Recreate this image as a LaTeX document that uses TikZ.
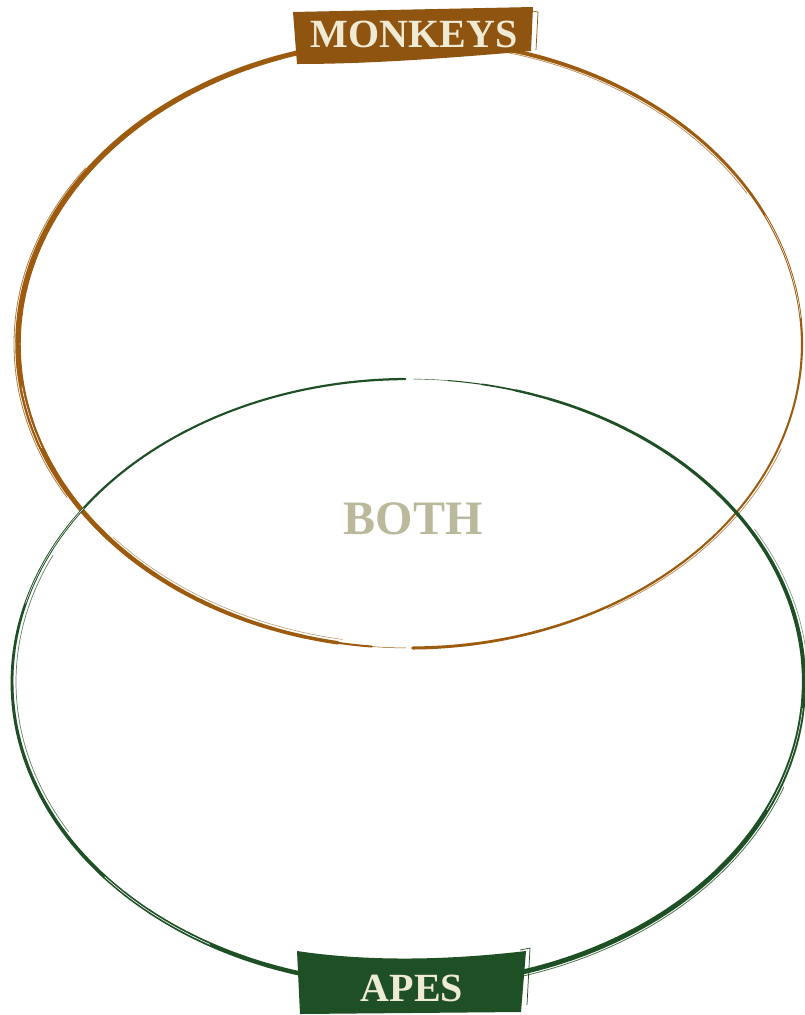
\documentclass[tikz,border=0pt]{standalone}
\usepackage{fontspec}
\setmainfont{Liberation Serif}
\definecolor{monk}{HTML}{9C5B0E}
\definecolor{monkb}{HTML}{8E5410}
\definecolor{apeg}{HTML}{1F4F24}
\definecolor{cream}{HTML}{EEEAD4}
\definecolor{bothc}{HTML}{BAB99C}
\begin{document}
\begin{tikzpicture}[x=1pt,y=-1pt,
  bannertext/.style={text=cream,font=\fontsize{40}{40}\selectfont\bfseries,inner sep=0pt},
  ring/.style={line cap=round},
]
\useasboundingbox[fill=white] (0,0) rectangle (804,1015);
% ---- brown (monkeys) ellipse, centre (410,344), tapered brush stroke
\foreach \s in {90.6,95.6,...,445.6}{
  \pgfmathsetmacro\e{min(\s+5,449.6)}
  \pgfmathsetmacro\w{min(3.8+1.8*cos(\s-200),0.5+(\s-90.6)*0.3)}
  \draw[monk,ring,line width=\w pt] (410,344) ++(\s:392 and 304) arc[start angle=\s,end angle=\e,x radius=392,y radius=304];
}
\begin{scope}[monk]
\draw[ring,line width=0.8pt,opacity=0.8] (410,344) ++(150:396 and 307) arc[start angle=150,end angle=215,x radius=396,y radius=307];
\draw[ring,line width=0.7pt,opacity=0.7] (410,344) ++(280:389 and 301) arc[start angle=280,end angle=330,x radius=389,y radius=301];
\draw[ring,line width=0.7pt,opacity=0.7] (410,344) ++(20:395 and 306) arc[start angle=20,end angle=60,x radius=395,y radius=306];
\draw[ring,line width=0.6pt,opacity=0.6] (410,344) ++(100:388 and 300) arc[start angle=100,end angle=140,x radius=388,y radius=300];
\end{scope}
\draw[white,line width=0.5pt] (410,344) ++(335:392 and 304) arc[start angle=335,end angle=355,x radius=392,y radius=304];
\draw[white,line width=0.5pt] (410,344) ++(160:392 and 304) arc[start angle=160,end angle=172,x radius=392,y radius=304];
% ---- green (apes) ellipse, centre (408,682), tapered brush stroke
\foreach \s in {270.8,275.8,...,625.8}{
  \pgfmathsetmacro\e{min(\s+5,629.6)}
  \pgfmathsetmacro\w{min(3.5+1.4*cos(\s-420),0.4+(\s-270.8)*0.13)}
  \draw[apeg,ring,line width=\w pt] (408,682) ++(\s:396 and 303) arc[start angle=\s,end angle=\e,x radius=396,y radius=303];
}
\begin{scope}[apeg]
\draw[ring,line width=0.8pt,opacity=0.8] (408,682) ++(20:400 and 307) arc[start angle=20,end angle=80,x radius=400,y radius=307];
\draw[ring,line width=0.7pt,opacity=0.7] (408,682) ++(150:392 and 299) arc[start angle=150,end angle=205,x radius=392,y radius=299];
\draw[ring,line width=0.6pt,opacity=0.6] (408,682) ++(330:400 and 306) arc[start angle=330,end angle=355,x radius=400,y radius=306];
\end{scope}
\draw[white,line width=0.6pt] (408,682) ++(120:396 and 303) arc[start angle=120,end angle=140,x radius=396,y radius=303];
\draw[white,line width=0.5pt] (408,682) ++(195:396 and 303) arc[start angle=195,end angle=215,x radius=396,y radius=303];
\draw[white,line width=0.5pt] (408,682) ++(5:396 and 303) arc[start angle=5,end angle=25,x radius=396,y radius=303];
% ---- banners
\fill[monkb] (293,12) -- (533,7) -- (531,51) .. controls (450,58) and (370,64) .. (297,64) -- cycle;
\draw[monkb,line width=0.7pt] (522,9) -- (538,12) -- (536,50);
\node[bannertext] (monkeys) at (414,34) {MONKEYS};
\fill[apeg] (297,951) .. controls (370,962) and (450,960) .. (526,951) -- (521,1012) -- (300,1014) -- cycle;
\draw[apeg,line width=0.7pt] (520,950) -- (530,948) -- (527,1005);
\node[bannertext] (apes) at (412,988) {APES};
\node[text=bothc,font=\fontsize{48}{48}\selectfont\bfseries,inner sep=0pt] (both) at (413,519) {BOTH};
\end{tikzpicture}
\end{document}
